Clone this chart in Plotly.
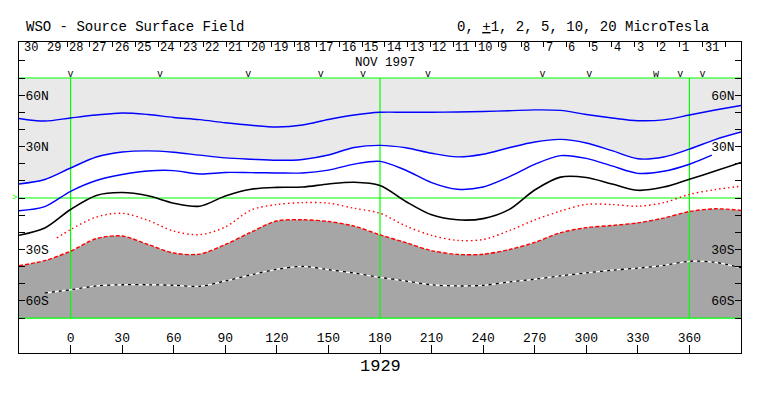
import plotly.graph_objects as go

# ---------------- data ----------------
lon = [-30, -15, 0, 15, 30, 45, 60, 75, 90, 105, 120, 135, 150, 165, 180,
       195, 210, 225, 240, 255, 270, 285, 300, 315, 330, 345, 360, 375, 390]

# 20 uT positive contour (top)
blue_a = [46.4, 44.9, 46.7, 48.4, 49.6, 48.7, 47.0, 45.7, 43.9, 42.4, 41.4, 42.6, 45.8, 48.4, 50.0,
          50.0, 50.0, 50.2, 50.5, 50.9, 51.4, 51.1, 48.7, 46.7, 45.1, 45.6, 48.4, 51.3, 54.0]
# 10 uT contour (edge of light shading)
blue_b = [8.2, 10.8, 17.5, 23.9, 26.8, 27.5, 26.7, 25.0, 23.4, 22.6, 22.0, 22.5, 25.1, 29.5, 30.7,
          29.3, 26.1, 24.0, 25.5, 29.3, 32.7, 34.2, 32.1, 27.6, 22.9, 23.9, 28.5, 34.1, 38.5]
# 5 uT contour
blue_c_lon = [-30, -15, 0, 15, 30, 45, 60, 75, 90, 105, 120, 135, 150, 165, 180,
              195, 210, 225, 240, 255, 270, 285, 300, 315, 330, 345, 360, 373]
blue_c = [-7.4, -5.0, 3.9, 10.2, 13.7, 15.8, 16.0, 14.0, 14.9, 14.8, 14.6, 14.6, 16.3, 19.8, 21.4,
          16.2, 9.0, 5.1, 6.4, 12.3, 19.6, 24.7, 23.1, 18.7, 14.4, 15.6, 19.7, 25.0]
# neutral line
neutral = [-21.7, -17.5, -6.7, 1.5, 3.2, 1.3, -3.0, -4.8, 1.2, 5.1, 6.2, 6.4, 8.2, 9.2, 7.3,
           -2.0, -9.8, -12.7, -12.0, -6.8, 4.7, 12.2, 12.0, 8.2, 4.5, 6.4, 11.0, 15.7, 20.7]
# negative contours
red_dot_lon = [-8, 0, 15, 30, 45, 60, 75, 90, 105, 120, 135, 150, 165, 180,
               195, 210, 225, 240, 255, 270, 285, 300, 315, 330, 345, 360, 375, 390]
red_dot = [-23.3, -18.4, -11.1, -8.9, -13.0, -19.3, -21.4, -16.9, -7.0, -3.8, -2.7, -3.0, -6.0, -8.9,
           -16.3, -21.8, -24.7, -24.2, -19.1, -12.8, -7.6, -3.7, -3.8, -4.8, -2.7, 2.1, 4.9, 6.9]
red_dash = [-39.5, -36.5, -31.0, -23.7, -22.2, -27.1, -32.1, -32.7, -27.1, -19.9, -13.4, -12.7, -13.7, -16.4, -21.5,
            -26.0, -30.7, -32.9, -32.8, -30.1, -25.9, -20.2, -17.3, -16.0, -14.5, -11.7, -7.9, -6.3, -7.2]
wb_lon = lon[1:]
wb_dash = [-55.4, -53.5, -51.3, -50.6, -50.6, -50.9, -51.5, -48.4, -44.8, -41.6, -39.9, -41.8, -43.8, -46.3,
           -48.4, -50.6, -51.3, -50.9, -49.0, -47.4, -45.4, -43.7, -42.1, -40.9, -39.3, -36.9, -37.5, -40.7]

# top markers
mark_lon = [0, 52.1, 103.4, 145.6, 170.1, 207.9, 274.6, 301.8, 340.5, 354.6, 367.6]
mark_txt = ["v", "v", "v", "v", "v", "v", "v", "v", "w", "v", "v"]

# day labels (left to right)
days = ["30", "29", "28", "27", "26", "25", "24", "23", "22", "21", "20", "19", "18", "17", "16", "15",
        "14", "13", "12", "11", "10", "9", "8", "7", "6", "5", "4", "3", "2", "1", "31"]
first_day_edge = -28.3          # longitude of boundary left of first label
deg_per_day = 360 / 27.2753

x_ticks = list(range(0, 361, 30))
lat_ticks = list(range(-80, 81, 10))
lat_left_text = {60: "60N", 30: "30N", -30: "30S", -60: "60S"}

# ---------------- figure ----------------
FONT = "Liberation Mono, Courier New, monospace"
GREEN = "#00ff00"
LIGHT = "#e9e9e9"
DARK = "#a6a6a6"
SM = 0.9

fig = go.Figure()

xmin, xmax = -30, 390
# light shading above the 10 uT contour
fig.add_trace(go.Scatter(x=[xmin, xmax], y=[70, 70], mode="lines", line=dict(width=0),
                         hoverinfo="skip", showlegend=False))
fig.add_trace(go.Scatter(x=lon, y=blue_b, mode="lines", line=dict(width=0, shape="spline", smoothing=SM),
                         fill="tonexty", fillcolor=LIGHT, hoverinfo="skip", showlegend=False))
# dark shading below the negative boundary
fig.add_trace(go.Scatter(x=lon, y=red_dash, mode="lines", line=dict(width=0, shape="spline", smoothing=SM),
                         hoverinfo="skip", showlegend=False))
fig.add_trace(go.Scatter(x=[xmin, xmax], y=[-70, -70], mode="lines", line=dict(width=0),
                         fill="tonexty", fillcolor=DARK, hoverinfo="skip", showlegend=False))

# green reference lines
for yv in [70, 0, -70]:
    fig.add_trace(go.Scatter(x=[xmin, xmax], y=[yv, yv], mode="lines",
                             line=dict(color=GREEN, width=1.2), hoverinfo="skip", showlegend=False))
for xv in [0, 180, 360]:
    fig.add_trace(go.Scatter(x=[xv, xv], y=[-70, 70], mode="lines",
                             line=dict(color=GREEN, width=1.2), hoverinfo="skip", showlegend=False))

# contours
def curve(xs, ys, color, width=1.4, dash="solid"):
    fig.add_trace(go.Scatter(x=xs, y=ys, mode="lines",
                             line=dict(color=color, width=width, dash=dash, shape="spline", smoothing=SM),
                             hoverinfo="skip", showlegend=False))

curve(lon, blue_a, "#0000ff")
curve(lon, blue_b, "#0000ff")
curve(blue_c_lon, blue_c, "#0000ff")
curve(lon, neutral, "#000000", 1.6)
curve(red_dot_lon, red_dot, "#ff0000", 1.4, "1.5px,3px")
curve(lon, red_dash, "#ff0000", 1.4, "4px,2px")
curve(wb_lon, wb_dash, "#ffffff", 1.3)
curve(wb_lon, wb_dash, "#000000", 1.3, "3px,4px")

# top "v" markers
fig.add_trace(go.Scatter(x=mark_lon, y=[72.0] * len(mark_lon), mode="text", text=mark_txt,
                         textfont=dict(family=FONT, size=10, color="black"),
                         hoverinfo="skip", showlegend=False))

# dummy traces to activate secondary axes
fig.add_trace(go.Scatter(x=[xmin], y=[0], xaxis="x2", yaxis="y", mode="markers",
                         marker=dict(opacity=0), hoverinfo="skip", showlegend=False))
fig.add_trace(go.Scatter(x=[xmin], y=[0], xaxis="x", yaxis="y2", mode="markers",
                         marker=dict(opacity=0), hoverinfo="skip", showlegend=False))

day_edges = [first_day_edge + k * deg_per_day for k in range(len(days) + 1)]

annotations = []
for k, d in enumerate(days):
    annotations.append(dict(x=day_edges[k], y=87.6, xref="x", yref="y", text=d, showarrow=False,
                            xanchor="left", yanchor="middle", xshift=1, borderpad=0,
                            font=dict(family=FONT, size=12, color="black")))
annotations += [
    dict(x=182.7, y=78.8, xref="x", yref="y", text="NOV 1997", showarrow=False, borderpad=0,
         font=dict(family=FONT, size=12.5, color="black")),
    dict(x=0.007, y=1.047, xref="paper", yref="paper", text="WSO - Source Surface Field",
         showarrow=False, xanchor="left", yanchor="middle", font=dict(family=FONT, size=14, color="black")),
    dict(x=0.959, y=1.047, xref="paper", yref="paper",
         text="0, <u>+</u>1, 2, 5, 10, 20 MicroTesla",
         showarrow=False, xanchor="right", yanchor="middle", font=dict(family=FONT, size=14, color="black")),
    dict(x=180, y=-0.042, xref="x", yref="paper", text="1929", showarrow=False,
         yanchor="middle", font=dict(family=FONT, size=17, color="black")),
    dict(x=xmin, y=0, xref="x", yref="y", text=">", showarrow=False, xanchor="right",
         xshift=-0.5, font=dict(family=FONT, size=9, color=GREEN)),
]

tick_font = dict(family=FONT, size=13, color="black")
ytext = [lat_left_text.get(v, "") for v in lat_ticks]

# page body has an 8px default margin: figure is sized/margined so the frame lands at
# x 19..741, y 42..353 in the browser window
fig.update_layout(
    width=747, height=380,
    margin=dict(l=11, r=14, t=34, b=35),
    paper_bgcolor="white", plot_bgcolor="white",
    showlegend=False,
    xaxis=dict(range=[xmin, xmax], tickvals=x_ticks, ticktext=[str(v) for v in x_ticks],
               ticks="inside", ticklen=8, tickcolor="black", tickwidth=1,
               ticklabelposition="inside", tickfont=tick_font,
               showline=True, linecolor="black", linewidth=1, mirror=True,
               showgrid=False, zeroline=False, fixedrange=True),
    xaxis2=dict(range=[xmin, xmax], overlaying="x", side="top", anchor="y",
                tickvals=day_edges, ticks="inside", ticklen=5, tickcolor="black",
                showticklabels=False, showgrid=False, zeroline=False, showline=False),
    yaxis=dict(range=[-90.4, 91.0], tickvals=lat_ticks, ticktext=ytext,
               ticks="inside", ticklen=6, tickcolor="black",
               ticklabelposition="inside", tickfont=tick_font,
               showline=True, linecolor="black", linewidth=1, mirror=True,
               showgrid=False, zeroline=False),
    yaxis2=dict(range=[-90.4, 91.0], overlaying="y", side="right", anchor="x",
                tickvals=lat_ticks, ticktext=ytext,
                ticks="inside", ticklen=6, tickcolor="black",
                ticklabelposition="inside", tickfont=tick_font,
                showgrid=False, zeroline=False, showline=False),
    annotations=annotations,
)

fig.write_html("out.html")
